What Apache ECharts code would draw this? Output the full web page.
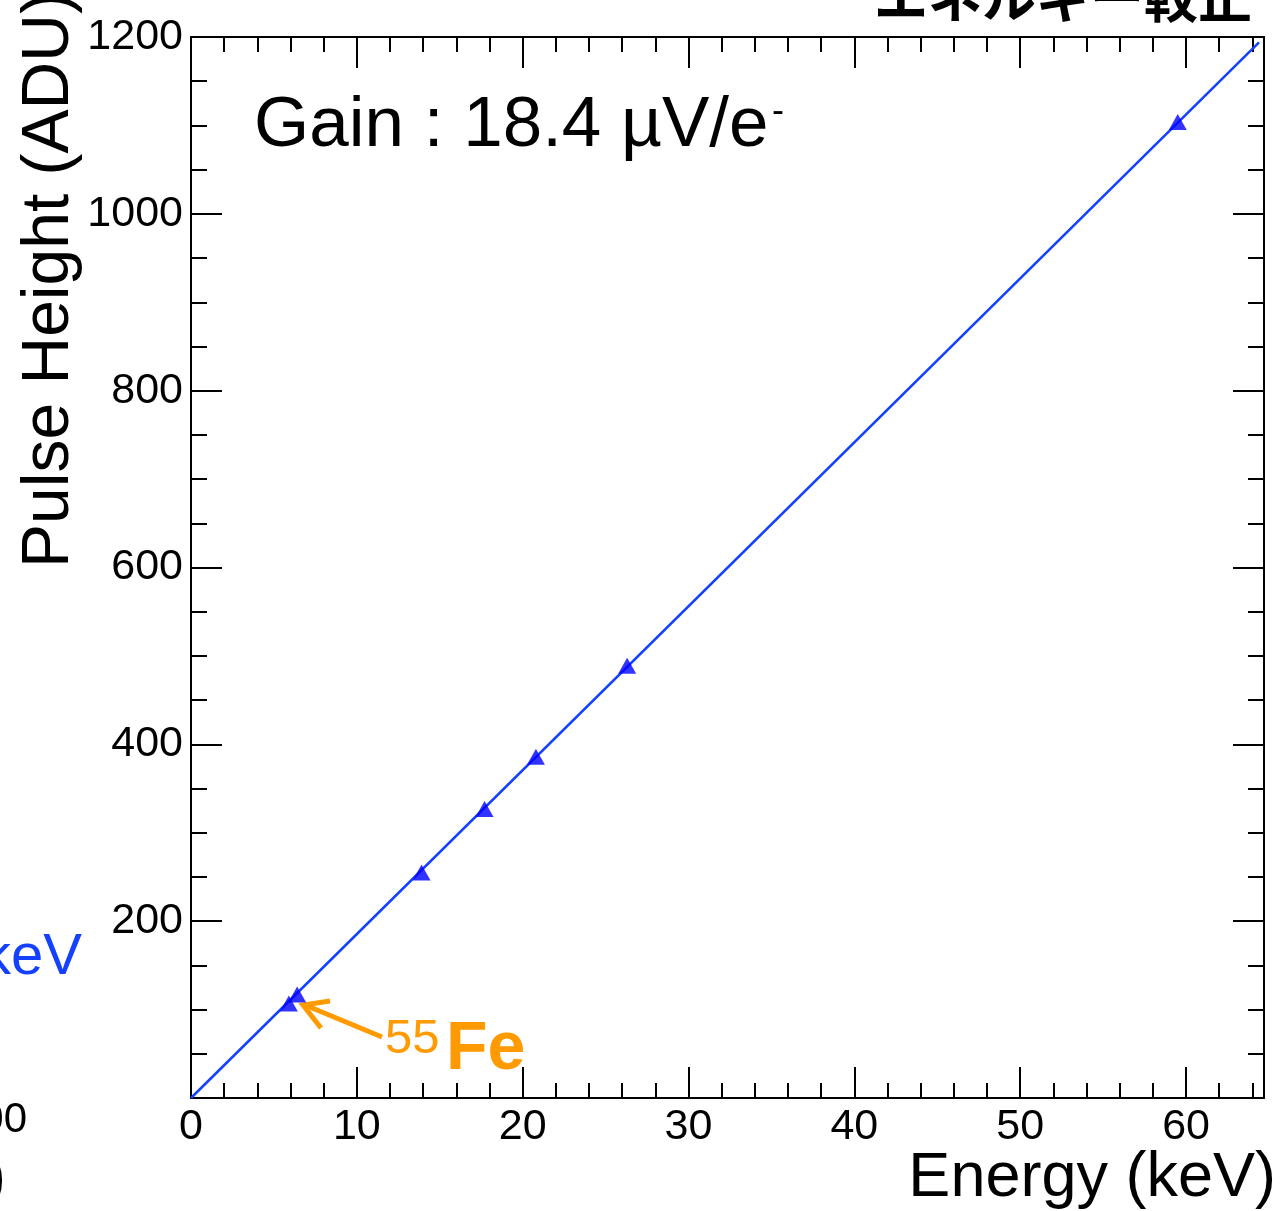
<!DOCTYPE html>
<html>
<head>
<meta charset="utf-8">
<script src="https://cdn.jsdelivr.net/npm/echarts@6/dist/echarts.min.js"></script>
<style>
  html, body { margin: 0; padding: 0; background: #fff; }
  #chart { width: 1280px; height: 1211px; }
</style>
</head>
<body>
<div id="chart"></div>
<script>
// calibration points (keV vs ADU)
const energies = [5.9, 6.4, 13.9, 17.7, 20.8, 26.3, 59.5];
const heights = [107, 117, 255, 327, 386, 489, 1104];

// linear fit through origin
const fitX = [0, 64.4];
const fitY = [0, 1194];

const xMax = 64.7;
const yMax = 1200;

const FONT = '"Liberation Sans", Arial, Helvetica, sans-serif';
const ORANGE = '#ff9a00';

const chart = echarts.init(document.getElementById('chart'));

function xAx(pos, interval, len, labels, line) {
    return {
        type: 'value', position: pos, min: 0, max: xMax, interval: interval,
        axisLine: { show: line, onZero: false, lineStyle: { color: '#000', width: 2 } },
        axisTick: { show: true, inside: true, length: len, lineStyle: { color: '#000', width: 2 } },
        axisLabel: {
            show: labels, showMaxLabel: false, margin: 8, color: '#000',
            fontSize: 43, fontFamily: FONT, formatter: v => String(v)
        },
        splitLine: { show: false }
    };
}

function yAx(pos, labels) {
    return {
        type: 'value', position: pos, min: 0, max: yMax, interval: 200,
        axisLine: { show: true, onZero: false, lineStyle: { color: '#000', width: 2 } },
        axisTick: { show: true, inside: true, length: 31, lineStyle: { color: '#000', width: 2 } },
        minorTick: { show: true, splitNumber: 4, length: 16, lineStyle: { color: '#000', width: 2 } },
        axisLabel: {
            show: labels, margin: 8, color: '#000',
            fontSize: 43, fontFamily: FONT, showMinLabel: false, formatter: v => String(v)
        },
        splitLine: { show: false }
    };
}

chart.setOption({
    animation: false,
    backgroundColor: '#fff',
    grid: { left: 191, top: 37, right: 16, bottom: 113, containLabel: false, outerBoundsMode: 'none' },
    xAxis: [
        xAx('bottom', 10, 31, true, true),
        xAx('bottom', 2, 15, false, false),
        xAx('top', 10, 31, false, true),
        xAx('top', 2, 15, false, false)
    ],
    yAxis: [yAx('left', true), yAx('right', false)],
    series: [
        {
            type: 'line',
            data: fitX.map((x, i) => [x, fitY[i]]),
            showSymbol: false,
            lineStyle: { color: '#1440ff', width: 2.5 },
            z: 2
        },
        {
            type: 'scatter',
            data: energies.map((e, i) => [e, heights[i]]),
            symbol: 'triangle',
            symbolSize: [18, 16],
            itemStyle: { color: '#0000ff' },
            z: 3
        }
    ],
    graphic: [
        // title (cut off at the top)
        { type: 'text', right: 28, top: -30, style: { text: 'エネルギー較正', fontSize: 54, fontWeight: 'bold', fill: '#000', fontFamily: '"Noto Sans CJK JP", sans-serif' } },
        // gain annotation
        { type: 'text', x: 254, y: 126, style: { text: 'Gain : 18.4 µV/e', fontSize: 71, fill: '#000', fontFamily: FONT, verticalAlign: 'middle' } },
        { type: 'text', x: 772, y: 112, style: { text: '-', fontSize: 36, fill: '#000', fontFamily: FONT, verticalAlign: 'middle' } },
        // axis titles
        { type: 'text', x: 50, y: 280, rotation: Math.PI / 2, style: { text: 'Pulse Height (ADU)', fontSize: 66, fill: '#000', fontFamily: FONT, align: 'center', verticalAlign: 'middle' } },
        { type: 'text', x: 1276, y: 1179, style: { text: 'Energy (keV)', fontSize: 63, fill: '#000', fontFamily: FONT, align: 'right', verticalAlign: 'middle' } },
        // bits of the neighbouring panel on the left
        { type: 'text', x: 82, y: 958, style: { text: 'keV', fontSize: 58, fill: '#1440ff', fontFamily: FONT, align: 'right', verticalAlign: 'middle' } },
        { type: 'text', x: 27, y: 1120, style: { text: '00', fontSize: 42, fill: '#000', fontFamily: FONT, align: 'right', verticalAlign: 'middle' } },
        { type: 'text', x: 6, y: 1180, style: { text: ')', fontSize: 63, fill: '#000', fontFamily: FONT, align: 'right', verticalAlign: 'middle' } },
        // 55Fe arrow
        { type: 'polyline', shape: { points: [[382, 1037], [305, 1005]] }, style: { stroke: ORANGE, lineWidth: 5, fill: null } },
        { type: 'polyline', shape: { points: [[330, 1001], [303, 1005], [321, 1028]] }, style: { stroke: ORANGE, lineWidth: 5, fill: null } },
        { type: 'text', x: 385, y: 1039, style: { text: '55', fontSize: 49, fill: ORANGE, fontFamily: FONT, verticalAlign: 'middle' } },
        { type: 'text', x: 446, y: 1050, style: { text: 'Fe', fontSize: 68, fontWeight: 'bold', fill: ORANGE, fontFamily: FONT, verticalAlign: 'middle' } }
    ]
});
</script>
</body>
</html>
